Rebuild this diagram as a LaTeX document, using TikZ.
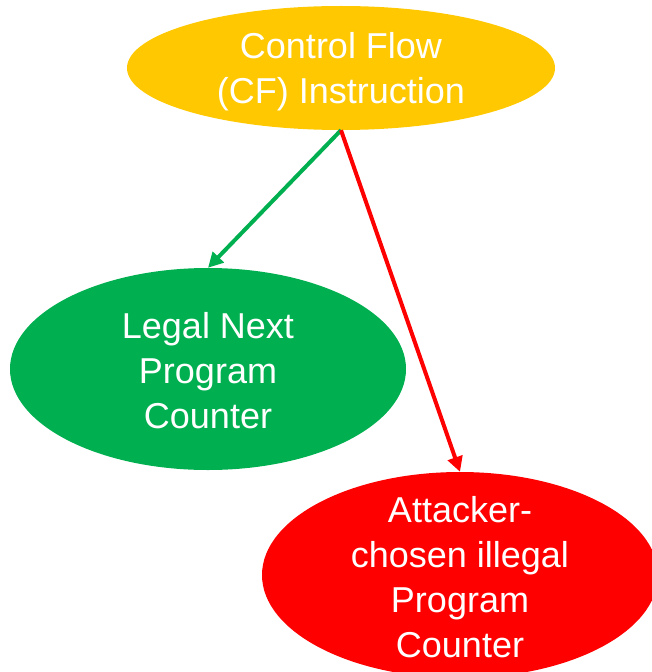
\documentclass[tikz,border=0pt]{standalone}
\usepackage{fontspec}
\setmainfont{Liberation Sans}
\usetikzlibrary{shapes.geometric,arrows.meta}
\definecolor{cfyellow}{RGB}{255,200,0}
\definecolor{okgreen}{RGB}{0,176,80}
\definecolor{badred}{RGB}{255,0,0}
\begin{document}
\begin{tikzpicture}[x=1bp,y=-1bp,
  blob/.style={ellipse, inner sep=0pt},
  caption/.style={text=white, align=center,
    font=\fontsize{36bp}{45bp}\selectfont},
  flow/.style={line width=4bp, -{Triangle[length=15bp,width=15bp]}}]
  \useasboundingbox (0,0) rectangle (652,672);
  \clip (0,0) rectangle (652,672);
  \node[blob, fill=cfyellow, minimum width=428bp, minimum height=124bp,
    label={[caption, yshift=-4bp]center:Control Flow\\(CF) Instruction}]
    (cf) at (341,68) {};
  \node[blob, fill=okgreen, minimum width=396bp, minimum height=202bp,
    label={[caption, yshift=-2bp]center:Legal Next\\Program\\Counter}]
    (legal) at (208,369) {};
  \node[blob, fill=badred, minimum width=396bp, minimum height=206bp,
    label={[caption, yshift=-2bp]center:Attacker-\\chosen illegal\\Program\\Counter}]
    (attack) at (460,575) {};
  \draw[flow, okgreen] (cf.south) -- (legal.north);
  \draw[flow, badred] (cf.south) -- (attack.north);
\end{tikzpicture}
\end{document}
